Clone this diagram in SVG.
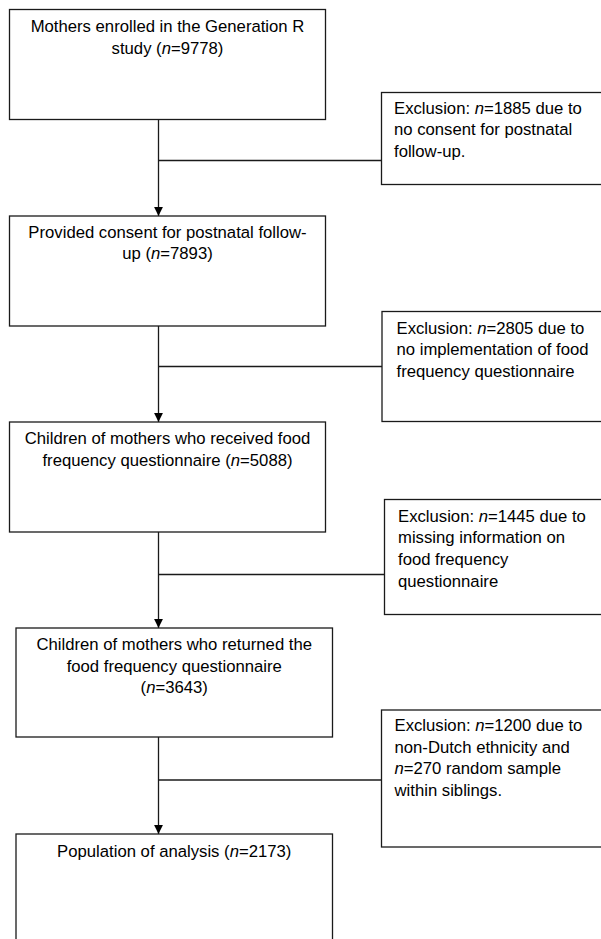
<svg xmlns="http://www.w3.org/2000/svg" width="601" height="939" viewBox="0 0 601 939">
<style>
.box{fill:#ffffff;stroke:#1a1a1a;stroke-width:1.3}
.ln{fill:none;stroke:#1a1a1a;stroke-width:1.3}
text{font-family:"Liberation Sans",Arial,sans-serif;font-size:16.7px;fill:#000}
.c{text-anchor:middle}
.i{font-style:italic}
</style>
<defs>
<marker id="ah" markerUnits="userSpaceOnUse" markerWidth="10" markerHeight="10" viewBox="0 0 10 10" refX="9" refY="5" orient="auto">
<path d="M0,0.6 L9,5 L0,9.4 Z" fill="#000"/>
</marker>
</defs>
<rect width="601" height="939" fill="#ffffff"/>
<g id="connectors">
<line class="ln" x1="158.5" y1="119.5" x2="158.5" y2="216" marker-end="url(#ah)"/>
<line class="ln" x1="158.5" y1="160.5" x2="381.5" y2="160.5"/>
<line class="ln" x1="158.5" y1="326" x2="158.5" y2="422" marker-end="url(#ah)"/>
<line class="ln" x1="158.5" y1="366.5" x2="382" y2="366.5"/>
<line class="ln" x1="158.5" y1="532" x2="158.5" y2="628" marker-end="url(#ah)"/>
<line class="ln" x1="158.5" y1="574.5" x2="384.5" y2="574.5"/>
<line class="ln" x1="158.5" y1="737" x2="158.5" y2="834" marker-end="url(#ah)"/>
<line class="ln" x1="158.5" y1="780" x2="381.5" y2="780"/>
</g>
<g id="node1">
<rect class="box" x="9.5" y="9.5" width="316" height="110"/>
<text class="c" x="167.5" y="32">Mothers enrolled in the Generation R</text>
<text class="c" x="167.5" y="54">study (<tspan class="i">n</tspan>=9778)</text>
</g>
<g id="excl1">
<rect class="box" x="381.5" y="92.5" width="240" height="92"/>
<text x="394" y="113.5">Exclusion: <tspan class="i">n</tspan>=1885 due to</text>
<text x="394" y="135.2">no consent for postnatal</text>
<text x="394" y="156.9">follow-up.</text>
</g>
<g id="node2">
<rect class="box" x="9.5" y="216" width="316" height="110"/>
<text class="c" x="167.5" y="237.5">Provided consent for postnatal follow-</text>
<text class="c" x="167.5" y="259.2">up (<tspan class="i">n</tspan>=7893)</text>
</g>
<g id="excl2">
<rect class="box" x="382" y="311.5" width="240" height="110"/>
<text x="396.5" y="333.5">Exclusion: <tspan class="i">n</tspan>=2805 due to</text>
<text x="396.5" y="355.2">no implementation of food</text>
<text x="396.5" y="376.9">frequency questionnaire</text>
</g>
<g id="node3">
<rect class="box" x="9.5" y="422" width="316" height="110"/>
<text class="c" x="167.5" y="444">Children of mothers who received food</text>
<text class="c" x="167.5" y="465.7">frequency questionnaire (<tspan class="i">n</tspan>=5088)</text>
</g>
<g id="excl3">
<rect class="box" x="384.5" y="499.5" width="240" height="115"/>
<text x="398" y="521.5">Exclusion: <tspan class="i">n</tspan>=1445 due to</text>
<text x="398" y="543.2">missing information on</text>
<text x="398" y="564.9">food frequency</text>
<text x="398" y="586.6">questionnaire</text>
</g>
<g id="node4">
<rect class="box" x="16" y="628" width="316.5" height="109"/>
<text class="c" x="174.25" y="650">Children of mothers who returned the</text>
<text class="c" x="174.25" y="671.7">food frequency questionnaire</text>
<text class="c" x="174.25" y="693.4">(<tspan class="i">n</tspan>=3643)</text>
</g>
<g id="excl4">
<rect class="box" x="381.5" y="710" width="240" height="137"/>
<text x="394.5" y="731">Exclusion: <tspan class="i">n</tspan>=1200 due to</text>
<text x="394.5" y="752.7">non-Dutch ethnicity and</text>
<text x="394.5" y="774.4"><tspan class="i">n</tspan>=270 random sample</text>
<text x="394.5" y="796.1">within siblings.</text>
</g>
<g id="node5">
<rect class="box" x="16" y="834" width="316.5" height="130"/>
<text class="c" x="174.25" y="856.5">Population of analysis (<tspan class="i">n</tspan>=2173)</text>
</g>
</svg>
